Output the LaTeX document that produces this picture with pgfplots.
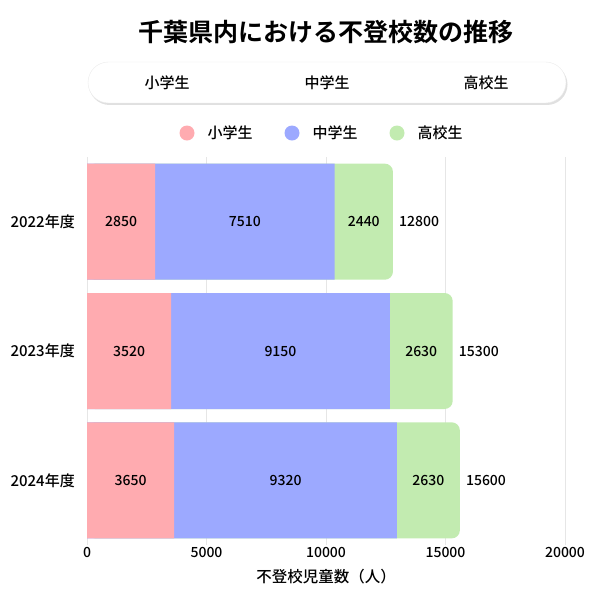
\documentclass[border=0pt]{standalone}
\usepackage{fontspec}
\setmainfont{Noto Sans CJK JP}[UprightFont={* Medium}, BoldFont={* Bold}]
\usepackage{pgfplots}
\usepackage{pgfplotstable}
\pgfplotsset{compat=1.18}

\definecolor{cPink}{HTML}{FFABB0}
\definecolor{cBlue}{HTML}{9CA9FF}
\definecolor{cGreen}{HTML}{C2EBB0}
\definecolor{cGrid}{HTML}{E6E6E6}

% 小学生 a, 中学生 b, 高校生 c, 合計 t
\pgfplotstableread{
y a b c t
0 2850 7510 2440 12800
1 3520 9150 2630 15300
2 3650 9320 2630 15600
}\data
\pgfplotstablecreatecol[expr={\thisrow{a}+\thisrow{b}}]{ab}\data
\pgfplotstablecreatecol[expr={\thisrow{a}/2}]{am}\data
\pgfplotstablecreatecol[expr={\thisrow{a}+\thisrow{b}/2}]{bm}\data
\pgfplotstablecreatecol[expr={\thisrow{a}+\thisrow{b}+\thisrow{c}/2}]{cm}\data

\begin{document}
\begin{tikzpicture}
\useasboundingbox (0pt,0pt) rectangle (600pt,600pt);

\node[font=\fontsize{25}{28}\selectfont\bfseries] at (326pt,568pt) {千葉県内における不登校数の推移};

% tab bar
\fill[black!12, rounded corners=20.5pt] (89pt,495pt) rectangle (567.5pt,536pt);
\draw[black!8, fill=white, rounded corners=20.5pt] (88pt,497pt) rectangle (566pt,538pt);
\node[font=\fontsize{15}{18}\selectfont] at (167pt,517pt) {小学生};
\node[font=\fontsize{15}{18}\selectfont] at (327pt,517pt) {中学生};
\node[font=\fontsize{15}{18}\selectfont] at (486pt,517pt) {高校生};

\begin{axis}[
  at={(87pt,55pt)}, anchor=south west,
  scale only axis, width=478pt, height=388pt,
  xmin=0, xmax=20000, ymin=-0.5, ymax=2.5, y dir=reverse,
  xtick={0,5000,10000,15000,20000},
  ytick={0,1,2},
  yticklabels={2022年度,2023年度,2024年度},
  scaled ticks=false,
  /pgf/number format/set thousands separator={},
  /pgf/number format/assume math mode=true,
  major tick length=0pt,
  axis line style={draw=none},
  xmajorgrids, grid style={cGrid, line width=0.8pt},
  tick label style={font=\fontsize{14}{16}\selectfont},
  xticklabel style={anchor=center, yshift=-7pt},
  yticklabel style={anchor=east, inner sep=0pt, xshift=-12pt, font=\fontsize{15}{18}\selectfont},
  xlabel={不登校児童数（人）},
  xlabel style={at={(axis description cs:0.5,0)}, anchor=center, yshift=-32pt, font=\fontsize{15.5}{18}\selectfont},
  legend columns=3,
  legend image code/.code={\fill[#1] (7.5pt,0pt) circle (7.5pt);},
  legend style={at={(axis description cs:0.5,1)}, anchor=center, yshift=24pt, xshift=-4pt,
    draw=none, fill=none, font=\fontsize{15}{18}\selectfont,
    /tikz/every odd column/.append style={column sep=11pt},
    /tikz/every even column/.append style={column sep=30pt}},
]
\addlegendimage{fill=cPink, draw=none}
\addlegendentry{小学生}
\addlegendimage{fill=cBlue, draw=none}
\addlegendentry{中学生}
\addlegendimage{fill=cGreen, draw=none}
\addlegendentry{高校生}

% bars drawn back to front: total (rounded end), 小+中, 小
\addplot[xbar, bar shift=0pt, bar width=116pt, fill=cGreen, draw=none, rounded corners=8pt, forget plot]
  table[x=t, y=y] {\data};
\addplot[xbar, bar shift=0pt, bar width=116pt, fill=cBlue, draw=none, forget plot]
  table[x=ab, y=y] {\data};
\addplot[xbar, bar shift=0pt, bar width=116pt, fill=cPink, draw=none, forget plot]
  table[x=a, y=y] {\data};

% value labels
\pgfplotsset{every node near coord/.style={anchor=center, font=\fontsize{14}{16}\selectfont}}
\addplot[draw=none, mark=none, forget plot, nodes near coords, point meta=explicit symbolic]
  table[x=am, y=y, meta=a] {\data};
\addplot[draw=none, mark=none, forget plot, nodes near coords, point meta=explicit symbolic]
  table[x=bm, y=y, meta=b] {\data};
\addplot[draw=none, mark=none, forget plot, nodes near coords, point meta=explicit symbolic]
  table[x=cm, y=y, meta=c] {\data};
\addplot[draw=none, mark=none, forget plot, nodes near coords, point meta=explicit symbolic,
  every node near coord/.append style={anchor=west, inner sep=0pt, xshift=6pt}]
  table[x=t, y=y, meta=t] {\data};
\end{axis}
\end{tikzpicture}
\end{document}
